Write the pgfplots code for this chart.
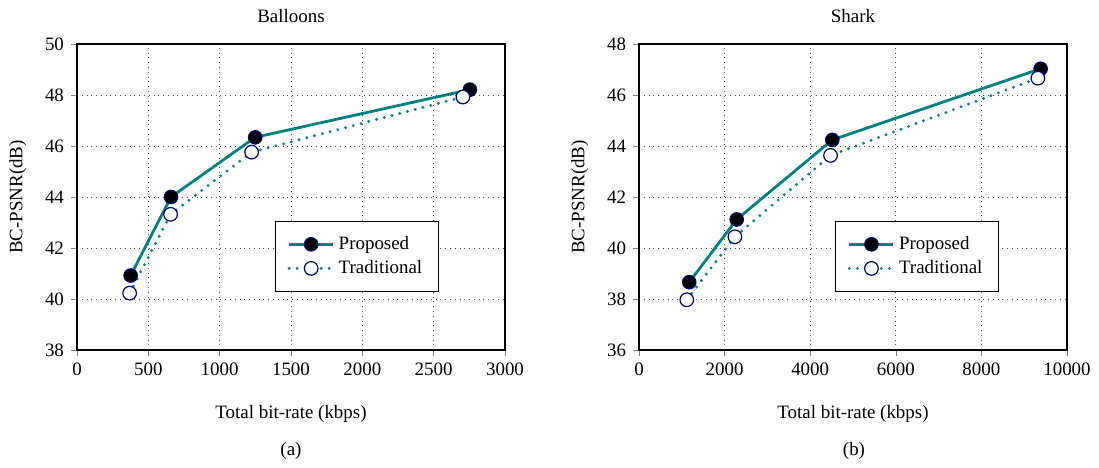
\documentclass[border=0pt]{standalone}
\usepackage{fontspec}
\setmainfont{Liberation Serif}
\usepackage{pgfplots}
\pgfplotsset{compat=1.18}
\definecolor{tealc}{RGB}{0,128,128}
\definecolor{navyc}{RGB}{0,0,128}
\pgfplotsset{
 mystyle/.style={
  scale only axis, width=214bp, height=153bp,
  font=\fontsize{9.5}{11}\selectfont,
  /pgf/number format/assume math mode=true,
  /pgf/number format/1000 sep={},
  scaled ticks=false,
  tick align=outside, xtick pos=bottom, ytick pos=left,
  major tick length=3bp,
  grid=major, major grid style={dotted, black!70, line width=0.5pt},
  axis line style={line width=0.6pt},
  xlabel={Total bit-rate (kbps)}, ylabel={BC-PSNR(dB)},
  xlabel style={at={(axis description cs:0.5,0)}, anchor=base, yshift=-34bp},
  ylabel style={at={(axis description cs:-0.138,0.5)}, anchor=center},
  title style={at={(axis description cs:0.5,1)}, anchor=base, yshift=5bp},
  legend cell align=left,
  legend style={anchor=south west, draw=black, inner xsep=6bp, inner ysep=5.5bp, font=\fontsize{9.5}{11}\selectfont},
  legend image code/.code={\draw[mark repeat=2,mark phase=2,##1] plot coordinates {(0bp,0bp)(11bp,0bp)(22bp,0bp)};},
 },
 prop/.style={color=tealc, line width=1.4bp, mark=*, mark size=3.4bp, mark options={solid, fill=black, draw=navyc, line width=0.5bp}},
 trad/.style={color=tealc, line width=1.6bp, line cap=round, dash pattern=on 0pt off 4bp, mark=*, mark size=3.4bp, mark options={solid, fill=white, draw=navyc, line width=0.6bp}},
}
\begin{document}
\begin{tikzpicture}
\useasboundingbox (-38.5bp,-59bp) rectangle (511bp,175bp);
\begin{axis}[mystyle, at={(0bp,0bp)}, anchor=south west,
  xmin=0, xmax=3000, ymin=38, ymax=50, xtick={0,500,...,3000}, ytick={38,40,...,50},
  title={Balloons}, legend style={at={(0.463,0.19)}}]
\addplot[prop] coordinates {(376,40.92) (659,44.0) (1249,46.34) (2754,48.21)};
\addlegendentry{Proposed}
\addplot[trad] coordinates {(369,40.23) (656,43.32) (1224,45.76) (2705,47.92)};
\addlegendentry{Traditional}
\end{axis}
\node[font=\fontsize{9.5}{11}\selectfont, anchor=base] at (107bp,-52.5bp) {(a)};
\begin{axis}[mystyle, at={(281bp,0bp)}, anchor=south west,
  xmin=0, xmax=10000, ymin=36, ymax=48, xtick={0,2000,...,10000}, ytick={36,38,...,48},
  title={Shark}, legend style={at={(0.459,0.19)}}]
\addplot[prop] coordinates {(1174,38.66) (2282,41.12) (4516,44.24) (9384,47.03)};
\addlegendentry{Proposed}
\addplot[trad] coordinates {(1117,37.97) (2241,40.44) (4475,43.63) (9319,46.66)};
\addlegendentry{Traditional}
\end{axis}
\node[font=\fontsize{9.5}{11}\selectfont, anchor=base] at (388.5bp,-52.5bp) {(b)};
\end{tikzpicture}
\end{document}
